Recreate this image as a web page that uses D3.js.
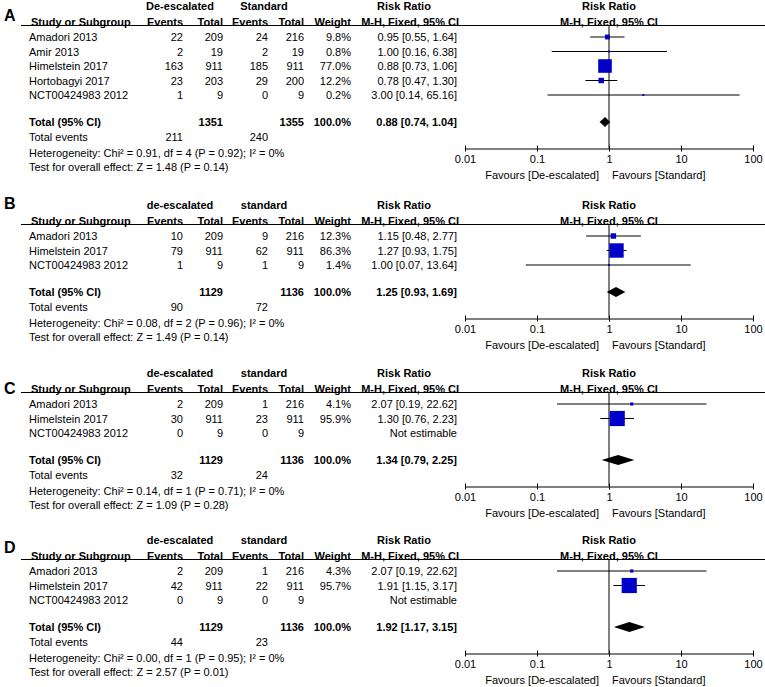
<!DOCTYPE html>
<html>
<head>
<meta charset="utf-8">
<script src="https://cdn.jsdelivr.net/npm/d3@7"></script>
<style>
body { margin: 0; background: #fff; }
text { font-family: Arial, "Liberation Sans", sans-serif; font-size: 11px; fill: #000; }
.b { font-weight: bold; }
.letter { font-size: 16px; font-weight: bold; }
</style>
</head>
<body>
<div id="chart"></div>
<script>
var w = 765;
var h = 687;

// ---- data ----
var letters = ["A", "B", "C", "D"];
var groupNames = [["De-escalated", "Standard"], ["de-escalated", "standard"], ["de-escalated", "standard"], ["de-escalated", "standard"]];

var studyA = ["Amadori 2013", "Amir 2013", "Himelstein 2017", "Hortobagyi 2017", "NCT00424983 2012"];
var deEventsA = [22, 2, 163, 23, 1];
var deTotalA = [209, 19, 911, 203, 9];
var stEventsA = [24, 2, 185, 29, 0];
var stTotalA = [216, 19, 911, 200, 9];
var weightA = [9.8, 0.8, 77.0, 12.2, 0.2];
var rrA = [0.95, 1.00, 0.88, 0.78, 3.00];
var lowA = [0.55, 0.16, 0.73, 0.47, 0.14];
var highA = [1.64, 6.38, 1.06, 1.30, 65.16];

var studyB = ["Amadori 2013", "Himelstein 2017", "NCT00424983 2012"];
var deEventsB = [10, 79, 1];
var deTotalB = [209, 911, 9];
var stEventsB = [9, 62, 1];
var stTotalB = [216, 911, 9];
var weightB = [12.3, 86.3, 1.4];
var rrB = [1.15, 1.27, 1.00];
var lowB = [0.48, 0.93, 0.07];
var highB = [2.77, 1.75, 13.64];

var studyC = ["Amadori 2013", "Himelstein 2017", "NCT00424983 2012"];
var deEventsC = [2, 30, 0];
var deTotalC = [209, 911, 9];
var stEventsC = [1, 23, 0];
var stTotalC = [216, 911, 9];
var weightC = [4.1, 95.9, null];
var rrC = [2.07, 1.30, null];
var lowC = [0.19, 0.76, null];
var highC = [22.62, 2.23, null];

var studyD = ["Amadori 2013", "Himelstein 2017", "NCT00424983 2012"];
var deEventsD = [2, 42, 0];
var deTotalD = [209, 911, 9];
var stEventsD = [1, 22, 0];
var stTotalD = [216, 911, 9];
var weightD = [4.3, 95.7, null];
var rrD = [2.07, 1.91, null];
var lowD = [0.19, 1.15, null];
var highD = [22.62, 3.17, null];

// pooled: [total de-esc, total standard, events de-esc, events standard]
var totalsA = [1351, 1355, 211, 240];
var totalsB = [1129, 1136, 90, 72];
var totalsC = [1129, 1136, 32, 24];
var totalsD = [1129, 1136, 44, 23];
// pooled RR [est, low, high]
var pooledA = [0.88, 0.74, 1.04];
var pooledB = [1.25, 0.93, 1.69];
var pooledC = [1.34, 0.79, 2.25];
var pooledD = [1.92, 1.17, 3.15];

var hetText = [
  "Heterogeneity: Chi\u00B2 = 0.91, df = 4 (P = 0.92); I\u00B2 = 0%",
  "Heterogeneity: Chi\u00B2 = 0.08, df = 2 (P = 0.96); I\u00B2 = 0%",
  "Heterogeneity: Chi\u00B2 = 0.14, df = 1 (P = 0.71); I\u00B2 = 0%",
  "Heterogeneity: Chi\u00B2 = 0.00, df = 1 (P = 0.95); I\u00B2 = 0%"
];
var testText = [
  "Test for overall effect: Z = 1.48 (P = 0.14)",
  "Test for overall effect: Z = 1.49 (P = 0.14)",
  "Test for overall effect: Z = 1.09 (P = 0.28)",
  "Test for overall effect: Z = 2.57 (P = 0.01)"
];

var tickValues = [0.01, 0.1, 1, 10, 100];
var tickLabels = ["0.01", "0.1", "1", "10", "100"];
var favours = ["Favours [De-escalated]", "Favours [Standard]"];

// ---- build panels ----
function rows(st, de, dt, se, stt, wt, rr, lo, hi) {
  return st.map(function(s, i) {
    return {study: s, de: de[i], dt: dt[i], se: se[i], st: stt[i], w: wt[i], rr: rr[i], lo: lo[i], hi: hi[i]};
  });
}
var panels = [
  {rows: rows(studyA, deEventsA, deTotalA, stEventsA, stTotalA, weightA, rrA, lowA, highA), totals: totalsA, pooled: pooledA},
  {rows: rows(studyB, deEventsB, deTotalB, stEventsB, stTotalB, weightB, rrB, lowB, highB), totals: totalsB, pooled: pooledB},
  {rows: rows(studyC, deEventsC, deTotalC, stEventsC, stTotalC, weightC, rrC, lowC, highC), totals: totalsC, pooled: pooledC},
  {rows: rows(studyD, deEventsD, deTotalD, stEventsD, stTotalD, weightD, rrD, lowD, highD), totals: totalsD, pooled: pooledD}
];

var panelTop = [6, 205, 373, 540];
var letterOff = [9, -2, 15, 7];

var x = d3.scaleLog().domain([0.01, 100]).range([465, 753]);
var f2 = d3.format(".2f");
var f1 = d3.format(".1f");
function ciText(a, b, c) { return f2(a) + " [" + f2(b) + ", " + f2(c) + "]"; }

// column right edges
var colDe = 183, colDt = 223, colSe = 268, colSt = 304, colW = 351, colRR = 457, colName = 29;

var svg = d3.select("#chart")
            .append("svg")
            .attr("width", w)
            .attr("height", h);

panels.forEach(function(p, k) {
  var y0 = panelTop[k];
  var g = svg.append("g");
  var n = p.rows.length;
  var rowY = function(i) { return y0 + 31 + i * 14.5; };
  var totY = rowY(n - 1) + 27;
  var axisY = totY + 26.5;

  function txt(s, xx, yy, anchor, cls) {
    return g.append("text")
      .attr("x", xx).attr("y", yy)
      .attr("dominant-baseline", "central")
      .attr("text-anchor", anchor || "start")
      .attr("class", cls || null)
      .text(s);
  }

  txt(letters[k], 4, y0 + letterOff[k], "start", "letter");

  // headers
  txt(groupNames[k][0], 180, y0, "middle", "b");
  txt(groupNames[k][1], 264, y0, "middle", "b");
  txt("Risk Ratio", 404, y0, "middle", "b");
  txt("Risk Ratio", x(1), y0, "middle", "b");
  var hy = y0 + 16;
  txt("Study or Subgroup", 31, hy, "start", "b");
  txt("Events", colDe, hy, "end", "b");
  txt("Total", colDt, hy, "end", "b");
  txt("Events", colSe, hy, "end", "b");
  txt("Total", colSt, hy, "end", "b");
  txt("Weight", colW, hy, "end", "b");
  txt("M-H, Fixed, 95% CI", colRR + 2, hy, "end", "b");
  txt("M-H, Fixed, 95% CI", x(1), hy, "middle", "b");

  g.append("line")
    .attr("x1", 21).attr("x2", w)
    .attr("y1", y0 + 19.5).attr("y2", y0 + 19.5)
    .attr("stroke", "#000").attr("stroke-width", 1);

  // study rows
  var r = g.selectAll("g.row").data(p.rows).enter().append("g").attr("class", "row");
  r.each(function(d, i) {
    var yy = rowY(i);
    txt(d.study, colName, yy);
    txt(d.de, colDe, yy, "end");
    txt(d.dt, colDt, yy, "end");
    txt(d.se, colSe, yy, "end");
    txt(d.st, colSt, yy, "end");
    if (d.w != null) {
      txt(f1(d.w) + "%", colW, yy, "end");
      txt(ciText(d.rr, d.lo, d.hi), colRR, yy, "end");
    } else {
      txt("Not estimable", colRR, yy, "end");
    }
  });

  // vertical line at 1
  g.append("line")
    .attr("x1", x(1)).attr("x2", x(1))
    .attr("y1", y0 + 19.5).attr("y2", axisY)
    .attr("stroke", "#000").attr("stroke-width", 1);

  var est = p.rows.filter(function(d) { return d.w != null; });
  g.selectAll("line.ci").data(est).enter().append("line")
    .attr("class", "ci")
    .attr("x1", function(d) { return x(d.lo); })
    .attr("x2", function(d) { return x(d.hi); })
    .attr("y1", function(d) { return rowY(p.rows.indexOf(d)); })
    .attr("y2", function(d) { return rowY(p.rows.indexOf(d)); })
    .attr("stroke", "#000").attr("stroke-width", 1);

  g.selectAll("rect.sq").data(est).enter().append("rect")
    .attr("class", "sq")
    .attr("x", function(d) { return x(d.rr) - Math.max(2, 1.55 * Math.sqrt(d.w)) / 2; })
    .attr("y", function(d) { return rowY(p.rows.indexOf(d)) - Math.max(2, 1.55 * Math.sqrt(d.w)) / 2; })
    .attr("width", function(d) { return Math.max(2, 1.55 * Math.sqrt(d.w)); })
    .attr("height", function(d) { return Math.max(2, 1.55 * Math.sqrt(d.w)); })
    .attr("fill", "#0000c8");

  // totals
  txt("Total (95% CI)", colName, totY, "start", "b");
  txt(p.totals[0], colDt, totY, "end", "b");
  txt(p.totals[1], colSt, totY, "end", "b");
  txt("100.0%", colW, totY, "end", "b");
  txt(ciText(p.pooled[0], p.pooled[1], p.pooled[2]), colRR, totY, "end", "b");
  txt("Total events", colName, totY + 15);
  txt(p.totals[2], colDe, totY + 15, "end");
  txt(p.totals[3], colSe, totY + 15, "end");
  txt(hetText[k], colName, totY + 30.5);
  txt(testText[k], colName, totY + 45);

  var pd = p.pooled;
  g.append("path")
    .attr("d", "M" + x(pd[1]) + "," + totY + "L" + x(pd[0]) + "," + (totY - 5) +
               "L" + x(pd[2]) + "," + totY + "L" + x(pd[0]) + "," + (totY + 5) + "Z")
    .attr("fill", "#000");

  // axis
  var axis = d3.axisBottom(x)
    .tickValues(tickValues)
    .tickFormat(function(d, i) { return tickLabels[i]; })
    .tickSizeInner(3)
    .tickSizeOuter(0);
  var ag = g.append("g").attr("transform", "translate(0," + axisY + ")").call(axis);
  ag.select(".domain").attr("stroke", "#000");
  ag.selectAll(".tick line").attr("y1", -3).attr("stroke", "#000");
  ag.selectAll(".tick text")
    .attr("y", 7)
    .style("font-family", "Arial, 'Liberation Sans', sans-serif")
    .style("font-size", "11px");
  ag.attr("font-family", null).attr("font-size", null);

  txt(favours[0], x(1) - 10, axisY + 26, "end");
  txt(favours[1], x(1) + 3, axisY + 26, "start");
});
</script>
</body>
</html>
